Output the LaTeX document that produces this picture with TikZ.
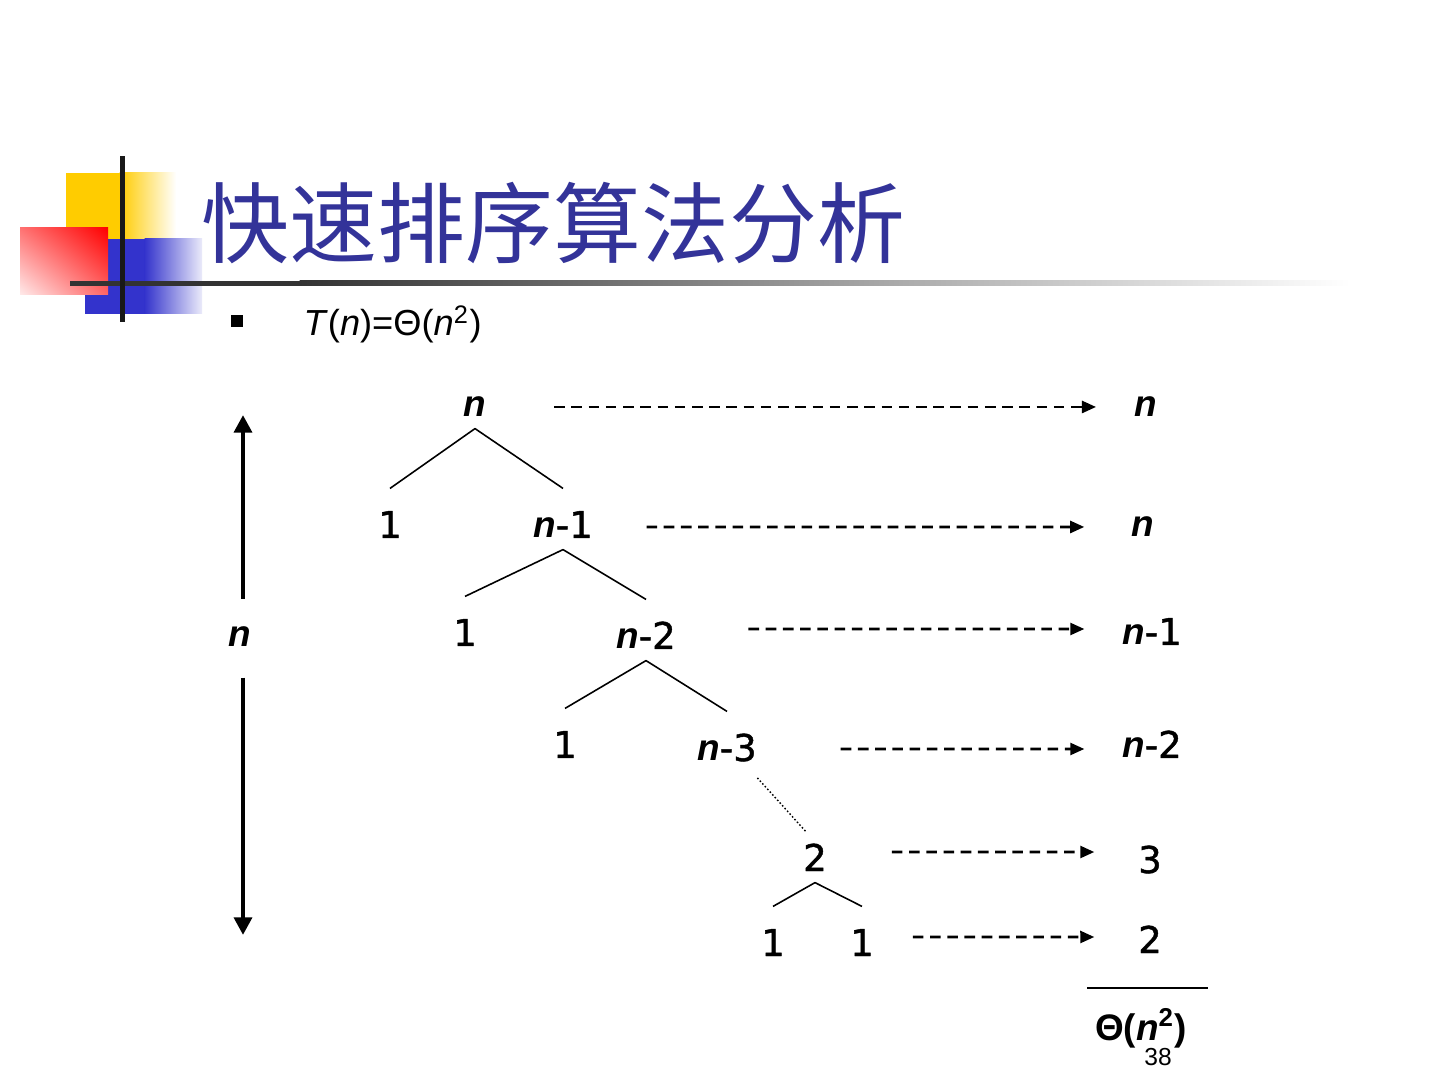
\documentclass[tikz,border=0pt]{standalone}
\usepackage{fontspec}
\setmainfont{DejaVu Sans}
\newfontfamily\digitfont[FakeBold=1.2]{DejaVu Sans}
\newfontfamily\arialfont{Liberation Sans}
\newfontfamily\cjkfont{Noto Sans CJK SC}
\usepackage{tikz}
\usetikzlibrary{arrows.meta,shadings}
\pgfdeclarelayer{background}
\pgfdeclarelayer{foreground}
\pgfsetlayers{background,main,foreground}
\definecolor{titleblue}{RGB}{51,51,153}
\definecolor{logoyellow}{RGB}{255,204,0}
\definecolor{logoblue}{RGB}{51,51,204}
\definecolor{logored}{RGB}{255,0,0}
\definecolor{rulegray}{RGB}{51,51,51}
\newcommand{\nvar}{{\arialfont\bfseries\itshape n}}
\tikzset{
  tnode/.style={anchor=base, inner sep=0pt, text height=13.9pt, text depth=3.1pt, font=\digitfont\fontsize{10.5}{12}\selectfont},
  branch/.style={line width=0.45pt},
  costarrow/.style={line width=0.75pt, dash pattern=on 3pt off 1.9pt, -{Triangle[length=4pt,width=3.4pt]}},
  heightarrow/.style={line width=1.4pt, -{Triangle[length=5pt,width=5pt]}}
}

\begin{document}
\begin{tikzpicture}[x=0.01cm,y=-0.01cm]
\useasboundingbox (0,0) rectangle (1440,1080);
\begin{pgfonlayer}{background}
\fill[logoyellow] (66,173) rectangle (120,239);
\shade[left color=logoyellow, right color=white] (119.5,173) rectangle (176,239);
\fill[logoblue] (85,239) rectangle (145,314);
\shade[left color=logoblue, right color=logoblue!10] (144.5,239) rectangle (202,314);
\shade[upper right=logored, upper left=logored!55, lower right=logored!60, lower left=logored!8] (20,228) rectangle (108,295);
\end{pgfonlayer}
\begin{pgfonlayer}{foreground}
\fill[rulegray] (70,281) rectangle (300,286);
\shade[left color=rulegray, right color=black!33] (299.5,281) rectangle (900,286);
\shade[left color=black!33, right color=white] (899.5,281) rectangle (1350,286);
\fill[black!90] (119.5,156) rectangle (124.5,322);
\end{pgfonlayer}

\node[anchor=base west, inner sep=0pt, text=titleblue, font=\cjkfont\fontsize{25}{30}\selectfont] (title) at (201,257) {快速排序算法分析};
\node[fill=black, inner sep=0pt, minimum size=3.2pt] (bul) at (237,321) {};
\node[anchor=base west, inner sep=0pt, font=\arialfont\fontsize{10.3}{12}\selectfont] (rec) at (303,336) {\textit{T}(\textit{n})=Θ(\textit{n}\textsuperscript{2})};

% recursion tree
\node[tnode] (n0) at (475,417) {\nvar};
\node[tnode] (a1) at (390,538) {1};
\node[tnode] (n1) at (563,538) {\nvar-1};
\node[tnode] (a2) at (465,646) {1};
\node[tnode] (n2) at (646,649) {\nvar-2};
\node[tnode] (a3) at (565,758) {1};
\node[tnode] (n3) at (727,761) {\nvar-3};
\node[tnode] (t2) at (815,871) {2};
\node[tnode] (b1) at (773,956) {1};
\node[tnode] (b2) at (862,956) {1};
\draw[branch] (n0.south) -- (a1.north);
\draw[branch] (n0.south) -- (n1.north);
\draw[branch] (n1.south) -- (a2.north);
\draw[branch] (n1.south) -- (n2.north);
\draw[branch] (n2.south) -- (a3.north);
\draw[branch] (n2.south) -- (n3.north);
\draw[line width=0.4pt, dash pattern=on 0.45pt off 0.6pt] ([yshift=-1.5pt]n3.south east) -- ([shift={(-2.5pt,-3pt)}]t2.north);
\draw[branch] (t2.south) -- (b1.north);
\draw[branch] (t2.south) -- (b2.north);

% cost per level
\node[tnode] (r0) at (1146,417) {\nvar};
\node[tnode] (r1) at (1143,537) {\nvar};
\node[tnode] (r2) at (1152,645) {\nvar-1};
\node[tnode] (r3) at (1152,758) {\nvar-2};
\node[tnode] (r4) at (1150,873) {3};
\node[tnode] (r5) at (1150,953) {2};
\draw[costarrow] ([shift={(19.1pt,2.85pt)}]n0.base east) -- ([shift={(-10.8pt,2.85pt)}]r0.base west);
\draw[costarrow] ([shift={(15.1pt,3.13pt)}]n1.base east) -- ([shift={(-13.3pt,2.85pt)}]r1.base west);
\draw[costarrow] ([shift={(20.5pt,5.7pt)}]n2.base east) -- ([shift={(-10.6pt,4.55pt)}]r2.base west);
\draw[costarrow] ([shift={(23.7pt,3.41pt)}]n3.base east) -- ([shift={(-10.6pt,2.56pt)}]r3.base west);
\draw[costarrow] ([shift={(18.3pt,5.4pt)}]t2.base east) -- ([shift={(-12.3pt,5.97pt)}]r4.base west);
\draw[costarrow] ([shift={(10.9pt,5.4pt)}]b2.base east) -- ([shift={(-12.3pt,4.55pt)}]r5.base west);

% height of the tree
\node[anchor=base, inner sep=0pt, text height=13.5pt, text depth=8.5pt, font=\fontsize{10.5}{12}\selectfont] (hgt) at (240,647) {\nvar};
\coordinate (htop) at (243,415);
\coordinate (hbot) at (243,935);
\draw[heightarrow] (hgt.north -| htop) -- (htop);
\draw[heightarrow] (hgt.south -| htop) -- (hbot);

% total
\draw[line width=0.85pt] (1087,988) -- (1208,988);
\node[anchor=base, inner sep=0pt, font=\arialfont\bfseries\fontsize{10.5}{12}\selectfont] (total) at (1141,1040) {Θ(\textit{n}\textsuperscript{2})};
\node[anchor=base, inner sep=0pt, font=\arialfont\fontsize{7}{8}\selectfont] (page) at (1158,1065) {38};
\end{tikzpicture}
\end{document}
